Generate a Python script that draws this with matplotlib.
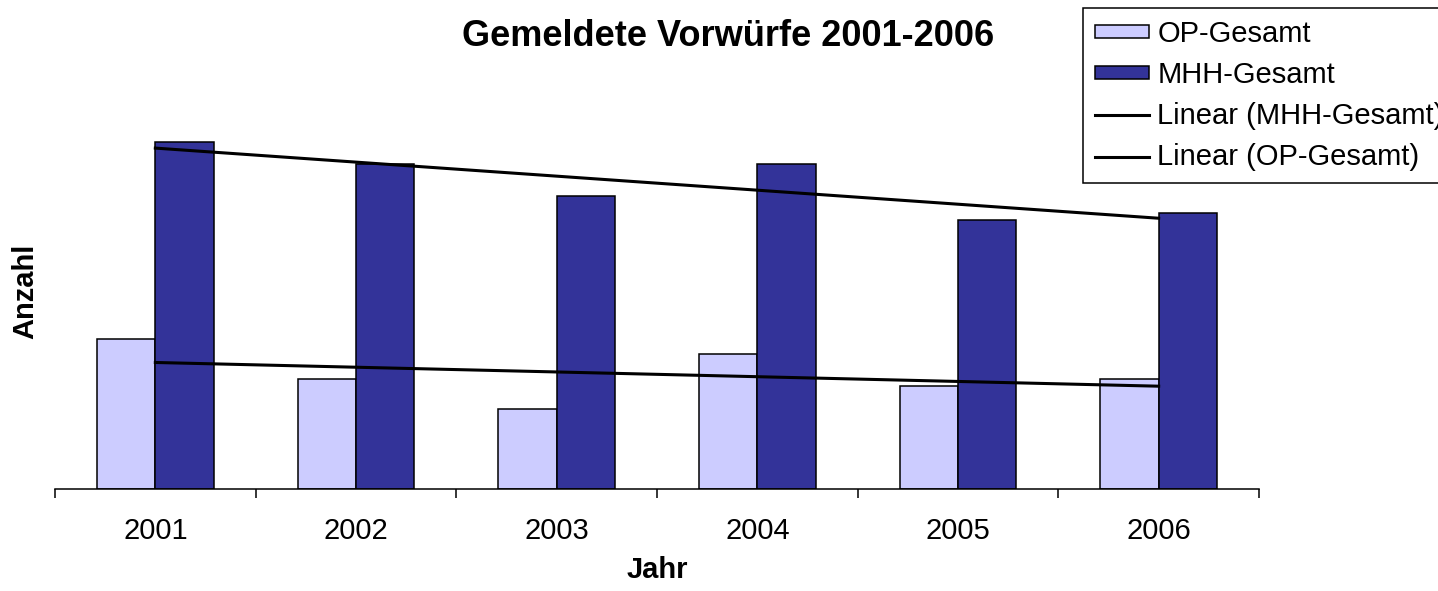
import numpy as np
import matplotlib
matplotlib.use("Agg")
import matplotlib.pyplot as plt

plt.rcParams["font.family"] = ["Liberation Sans", "DejaVu Sans"]

jahre = ["2001", "2002", "2003", "2004", "2005", "2006"]
op_gesamt = [150, 110, 80, 135, 103, 110]
mhh_gesamt = [347, 325, 293, 325, 269, 276]

W, H = 1438, 591
fig = plt.figure(figsize=(W / 100, H / 100), dpi=100)
ax = fig.add_axes([55 / W, (H - 489) / H, (1259 - 55) / W, (489 - 93) / H])

x = np.arange(len(jahre))
bw = 0.2915
b_op = ax.bar(x - bw / 2, op_gesamt, bw, color="#CCCCFF", edgecolor="black",
              linewidth=1.1, label="OP-Gesamt", zorder=2)
b_mhh = ax.bar(x + bw / 2, mhh_gesamt, bw, color="#333399", edgecolor="black",
               linewidth=1.1, label="MHH-Gesamt", zorder=2)

# lineare Trendlinien wie in Excel
m1, b1 = np.polyfit(x, mhh_gesamt, 1)
m2, b2 = np.polyfit(x, op_gesamt, 1)
l_mhh, = ax.plot(x, m1 * x + b1, color="black", linewidth=2.2, zorder=3)
l_op, = ax.plot(x, m2 * x + b2, color="black", linewidth=2.2, zorder=3)

ax.set_xlim(-0.5, len(jahre) - 0.5)
ax.set_ylim(0, 396)
ax.set_yticks([])
for s in ["top", "right", "left"]:
    ax.spines[s].set_visible(False)
ax.spines["bottom"].set_linewidth(1.1)

ax.set_xticks(x)
ax.set_xticklabels(jahre, fontsize=21)
ax.set_xticks(np.arange(-0.5, len(jahre)), minor=True)
ax.tick_params(axis="x", which="major", length=0, pad=20)
ax.tick_params(axis="x", which="minor", length=6.5, width=1.1, color="black")

fig.text(728 / W, 1 - 36 / H, "Gemeldete Vorwürfe 2001-2006", ha="center", va="center",
         fontsize=26, fontweight="bold")
fig.text(657 / W, 1 - 570 / H, "Jahr", ha="center", va="center",
         fontsize=21, fontweight="bold")
fig.text(25 / W, 1 - 291 / H, "Anzahl", ha="center", va="center", rotation=90,
         fontsize=21, fontweight="bold")

leg = fig.legend([b_op, b_mhh, l_mhh, l_op],
                 ["OP-Gesamt", "MHH-Gesamt", "Linear (MHH-Gesamt)", "Linear (OP-Gesamt)"],
                 loc="upper left", bbox_to_anchor=(1083 / W, 1 - 8 / H), fontsize=21,
                 frameon=True, fancybox=False, framealpha=1, edgecolor="black",
                 borderpad=0.4, labelspacing=0.45, handlelength=1.85,
                 handleheight=0.31, handletextpad=0.3, borderaxespad=0)
leg.get_frame().set_linewidth(1.1)

fig.savefig("out.png", dpi=100)
